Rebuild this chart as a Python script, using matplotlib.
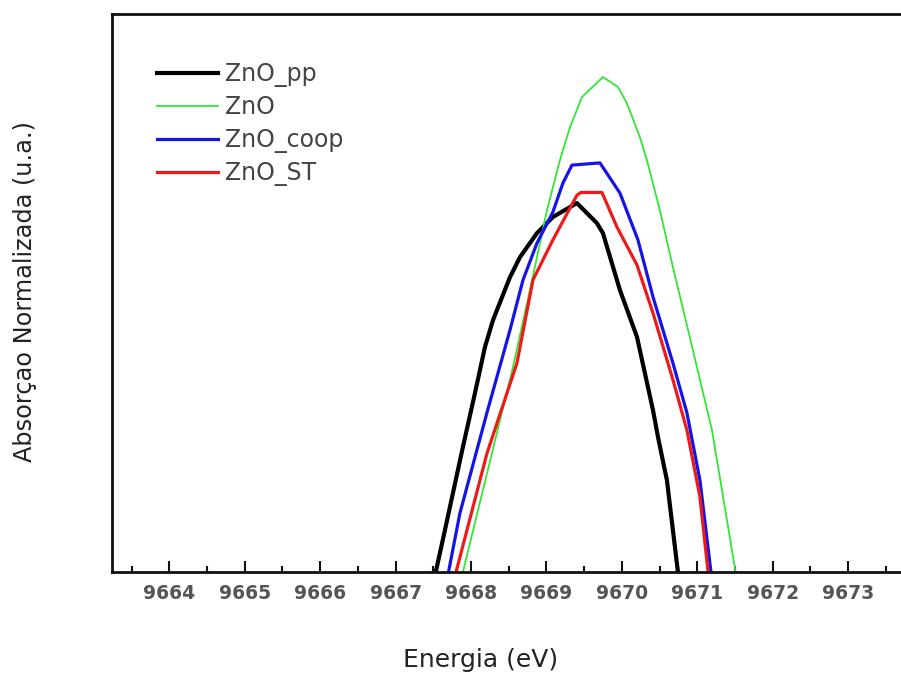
import matplotlib.pyplot as plt
from matplotlib.ticker import MultipleLocator

# energy (eV) and normalized absorption for each sample
e_pp = [9667.509, 9667.655, 9667.893, 9668.052, 9668.185, 9668.291, 9668.516, 9668.649,
        9668.874, 9669.086, 9669.404, 9669.669, 9669.749, 9669.974, 9670.200, 9670.412,
        9670.478, 9670.597, 9670.756]
a_pp = [-0.015, 0.075, 0.224, 0.320, 0.403, 0.451, 0.528, 0.564,
        0.607, 0.636, 0.661, 0.625, 0.607, 0.505, 0.421, 0.290,
        0.242, 0.164, -0.015]

e_zno = [9667.867, 9668.556, 9668.781, 9669.007, 9669.179, 9669.312, 9669.471, 9669.749,
         9669.948, 9670.067, 9670.239, 9670.332, 9670.504, 9670.677, 9670.942, 9671.194,
         9671.525]
a_zno = [-0.015, 0.367, 0.505, 0.648, 0.738, 0.797, 0.851, 0.887,
         0.869, 0.840, 0.779, 0.738, 0.648, 0.546, 0.397, 0.254,
         -0.015]

e_coop = [9667.681, 9667.853, 9668.211, 9668.516, 9668.689, 9668.874, 9669.086, 9669.219,
          9669.338, 9669.709, 9669.974, 9670.213, 9670.412, 9670.677, 9670.862, 9671.035,
          9671.194]
a_coop = [-0.015, 0.105, 0.285, 0.433, 0.523, 0.589, 0.645, 0.697,
          0.729, 0.733, 0.679, 0.595, 0.493, 0.374, 0.285, 0.164,
          -0.015]

e_st = [9667.774, 9668.211, 9668.609, 9668.821, 9669.086, 9669.404, 9669.457, 9669.736,
        9669.935, 9670.200, 9670.412, 9670.677, 9670.862, 9671.035, 9671.154]
a_st = [-0.015, 0.212, 0.374, 0.523, 0.595, 0.675, 0.680, 0.680,
        0.618, 0.550, 0.464, 0.344, 0.254, 0.134, -0.015]

fig = plt.figure(figsize=(9.01, 6.76), dpi=100)
# the frame runs past the right edge of the figure
ax = fig.add_axes([0.1246, 0.1543, 0.8963, 0.825])

ax.plot(e_pp, a_pp, color="black", lw=3.0, label="ZnO_pp")
ax.plot(e_zno, a_zno, color="#33e633", lw=1.3, label="ZnO")
ax.plot(e_coop, a_coop, color="#1414e6", lw=2.3, label="ZnO_coop")
ax.plot(e_st, a_st, color="#ee1a1a", lw=2.3, label="ZnO_ST")

ax.set_xlim(9663.244, 9673.95)
ax.set_ylim(0, 1.0)

for s in ["left", "top", "bottom"]:
    ax.spines[s].set_linewidth(2.0)
    ax.spines[s].set_color("#111111")
ax.spines["right"].set_visible(False)

ax.xaxis.set_major_locator(MultipleLocator(1))
ax.xaxis.set_minor_locator(MultipleLocator(0.5))
ax.tick_params(axis="x", which="major", direction="in", length=8, width=1.5,
               pad=9, labelsize=13.5, labelcolor="#555555", color="#111111")
ax.tick_params(axis="x", which="minor", direction="in", length=4.5, width=1.5,
               color="#111111")
for lbl in ax.get_xticklabels():
    lbl.set_fontweight("bold")
ax.set_yticks([])

ax.set_xlabel("Energia (eV)", fontsize=18, color="#222222")
ax.xaxis.set_label_coords(0.456, -0.136)
fig.text(25 / 901, 1 - 291.5 / 676, "Absorçao Normalizada (u.a.)", rotation=90,
         ha="center", va="center", fontsize=17.3, color="#222222")

ax.legend(loc="upper left", bbox_to_anchor=(157 / 901, 1 - 62 / 676),
          bbox_transform=fig.transFigure, frameon=False, fontsize=17,
          handlelength=2.6, handletextpad=0.3, labelspacing=0.36,
          borderpad=0, borderaxespad=0, labelcolor="#444444")

fig.savefig("out.png", dpi=100)
